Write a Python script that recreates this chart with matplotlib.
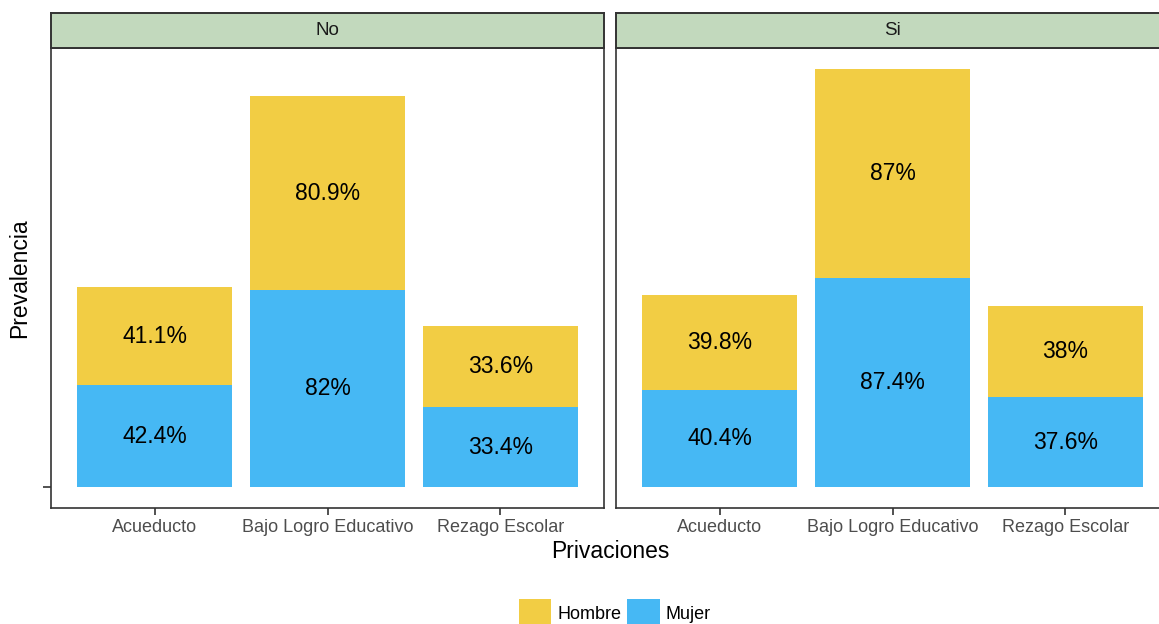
import numpy as np
import matplotlib
matplotlib.use("Agg")
import matplotlib.pyplot as plt
from matplotlib.patches import Patch

plt.rcParams['font.family'] = ['Liberation Sans', 'DejaVu Sans']

# data
facets = ["No", "Si"]
privaciones = ["Acueducto", "Bajo Logro Educativo", "Rezago Escolar"]
mujer = {"No": [42.4, 82, 33.4], "Si": [40.4, 87.4, 37.6]}
hombre = {"No": [41.1, 80.9, 33.6], "Si": [39.8, 87, 38]}

col_hombre = "#F2CD44"
col_mujer = "#46B8F4"
strip_fill = "#C2D9BD"
frame_col = "#333333"

W, H = 1159, 624
fig = plt.figure(figsize=(W / 100, H / 100), dpi=100)

def fx(px):
    return px / W

def fy(py):
    return 1 - py / H

panel_top, panel_bot = 48, 508
strip_top = 13
lefts = [51, 616]
pw = 553

ymax = max((np.array(mujer[f]) + np.array(hombre[f])).max() for f in facets)
ypad = ymax * 0.05

x = np.arange(len(privaciones))
for i, f in enumerate(facets):
    ax = fig.add_axes([fx(lefts[i]), fy(panel_bot), fx(pw), (panel_bot - panel_top) / H])
    m = np.array(mujer[f])
    h = np.array(hombre[f])
    ax.bar(x, m, width=0.9, color=col_mujer)
    ax.bar(x, h, width=0.9, bottom=m, color=col_hombre)
    for xi, mv, hv in zip(x, m, h):
        ax.text(xi, mv / 2, f"{mv:g}%", ha="center", va="center", fontsize=16.5, color="black")
        ax.text(xi, mv + hv / 2, f"{hv:g}%", ha="center", va="center", fontsize=16.5, color="black")
    ax.set_xlim(-0.6, len(privaciones) - 0.4)
    ax.set_ylim(-ypad, ymax + ypad)
    ax.set_xticks(x)
    ax.set_xticklabels(privaciones, fontsize=13, color="#4D4D4D")
    ax.tick_params(axis="x", length=5, width=1.2, color=frame_col, pad=3)
    if i == 0:
        ax.set_yticks([0])
        ax.set_yticklabels([""])
        ax.tick_params(axis="y", length=6, width=1.2, color=frame_col)
    else:
        ax.set_yticks([])
    for s in ax.spines.values():
        s.set_color(frame_col)
        s.set_linewidth(1.2)

    # facet strip
    sax = fig.add_axes([fx(lefts[i]), fy(panel_top), fx(pw), (panel_top - strip_top) / H])
    sax.set_facecolor(strip_fill)
    sax.set_xticks([])
    sax.set_yticks([])
    for s in sax.spines.values():
        s.set_color(frame_col)
        s.set_linewidth(1.4)
    sax.text(0.5, 0.5, f, ha="center", va="center", fontsize=13.5, color="#1A1A1A",
             transform=sax.transAxes)

fig.text(fx(20), fy(278), "Prevalencia", rotation=90, ha="center", va="center", fontsize=16.5)
fig.text(fx(610), fy(551), "Privaciones", ha="center", va="center", fontsize=16.5)

handles = [Patch(facecolor=col_hombre, label="Hombre"),
           Patch(facecolor=col_mujer, label="Mujer")]
fig.legend(handles=handles, loc="center", bbox_to_anchor=(fx(615), fy(613)), ncol=2,
           frameon=False, fontsize=13, handlelength=1.8, handleheight=2.0,
           handletextpad=0.35, columnspacing=0.3, borderpad=0)

fig.savefig("out.png", dpi=100)
